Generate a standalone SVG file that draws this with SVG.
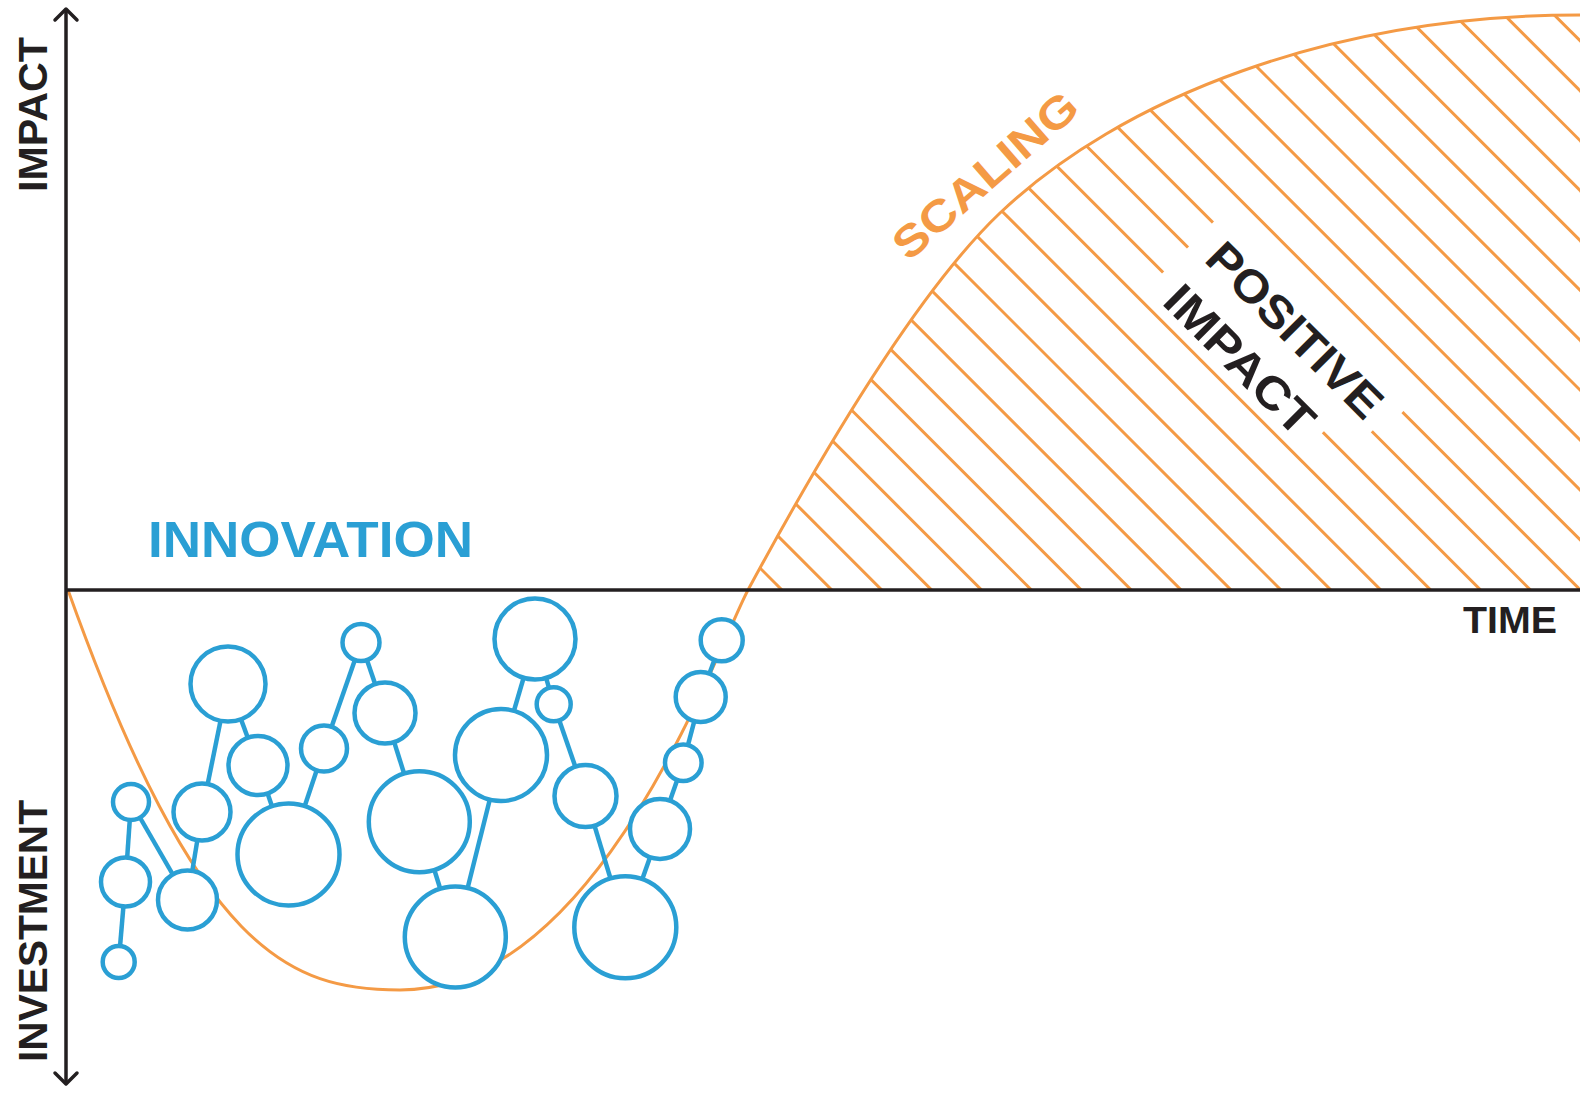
<svg xmlns="http://www.w3.org/2000/svg" width="1580" height="1095" viewBox="0 0 1580 1095">
<style>
.ax{stroke:#231f20;stroke-width:3.5;fill:none;stroke-linecap:round;stroke-linejoin:round}
.cv{stroke:#f49a45;stroke-width:3;fill:none}
.ht{stroke:#f49a45;stroke-width:3}
.gap{stroke:#fff;stroke-width:7}
.cn{stroke:#2a9fd4;stroke-width:4.5}
.nd{stroke:#2a9fd4;stroke-width:4.5;fill:#fff}
.lb{font-family:"Liberation Sans",Arial,sans-serif;font-weight:bold}
</style>
<defs>
<clipPath id="area"><path d="M748,590 C828,442 920,289 1000,213 C1120,99 1330,15 1580,15 L1580,590 Z"/></clipPath>
</defs>
<rect width="1580" height="1095" fill="#fff"/>
<g id="curve">
<path class="cv" d="M68,590 C198,954 290,990 400,990 C600,990 716,650 748,590 C828,442 920,289 1000,213 C1120,99 1330,15 1580,15"/>
</g>
<g id="hatch" clip-path="url(#area)">
<line class="ht" x1="782" y1="590" x2="82" y2="-110"/>
<line class="ht" x1="831.9" y1="590" x2="131.9" y2="-110"/>
<line class="ht" x1="881.8" y1="590" x2="181.8" y2="-110"/>
<line class="ht" x1="931.7" y1="590" x2="231.7" y2="-110"/>
<line class="ht" x1="981.6" y1="590" x2="281.6" y2="-110"/>
<line class="ht" x1="1031.5" y1="590" x2="331.5" y2="-110"/>
<line class="ht" x1="1081.4" y1="590" x2="381.4" y2="-110"/>
<line class="ht" x1="1131.3" y1="590" x2="431.3" y2="-110"/>
<line class="ht" x1="1181.2" y1="590" x2="481.2" y2="-110"/>
<line class="ht" x1="1231.1" y1="590" x2="531.1" y2="-110"/>
<line class="ht" x1="1281" y1="590" x2="581" y2="-110"/>
<line class="ht" x1="1330.9" y1="590" x2="630.9" y2="-110"/>
<line class="ht" x1="1380.8" y1="590" x2="680.8" y2="-110"/>
<line class="ht" x1="1430.7" y1="590" x2="730.7" y2="-110"/>
<line class="ht" x1="1480.6" y1="590" x2="780.6" y2="-110"/>
<line class="ht" x1="1530.5" y1="590" x2="830.5" y2="-110"/>
<line class="ht" x1="1580.4" y1="590" x2="880.4" y2="-110"/>
<line class="ht" x1="1630.3" y1="590" x2="930.3" y2="-110"/>
<line class="ht" x1="1680.2" y1="590" x2="980.2" y2="-110"/>
<line class="ht" x1="1730.1" y1="590" x2="1030.1" y2="-110"/>
<line class="ht" x1="1780" y1="590" x2="1080" y2="-110"/>
<line class="ht" x1="1829.9" y1="590" x2="1129.9" y2="-110"/>
<line class="ht" x1="1879.8" y1="590" x2="1179.8" y2="-110"/>
<line class="ht" x1="1929.7" y1="590" x2="1229.7" y2="-110"/>
<line class="ht" x1="1979.6" y1="590" x2="1279.6" y2="-110"/>
<line class="ht" x1="2029.5" y1="590" x2="1329.5" y2="-110"/>
<line class="ht" x1="2079.4" y1="590" x2="1379.4" y2="-110"/>
<line class="ht" x1="2129.3" y1="590" x2="1429.3" y2="-110"/>
<line class="ht" x1="2179.2" y1="590" x2="1479.2" y2="-110"/>
</g>
<g id="positive-impact" transform="translate(1295,330) rotate(45)">
<line class="gap" x1="-134" y1="-18" x2="134" y2="-18"/>
<line class="gap" x1="-134" y1="17.3" x2="126" y2="17.3"/>
<line class="gap" x1="-134" y1="52.6" x2="92" y2="52.6"/>
<text class="lb" x="-114" y="16" font-size="46" fill="#231f20" textLength="228" lengthAdjust="spacingAndGlyphs">POSITIVE</text>
<text class="lb" x="-114" y="76" font-size="46" fill="#231f20" textLength="192" lengthAdjust="spacingAndGlyphs">IMPACT</text>
</g>
<g id="axes">
<line class="ax" x1="66" y1="10" x2="66" y2="1083"/>
<polyline class="ax" points="55,20 66,9 77,20"/>
<polyline class="ax" points="55,1073 66,1084 77,1073"/>
<line class="ax" x1="66" y1="590" x2="1580" y2="590" style="stroke-linecap:butt"/>
</g>
<g id="connectors">
<line class="cn" x1="118.7" y1="962" x2="125.5" y2="882"/>
<line class="cn" x1="125.5" y1="882" x2="131" y2="802"/>
<line class="cn" x1="131" y1="802" x2="187.5" y2="900"/>
<line class="cn" x1="187.5" y1="900" x2="202" y2="812"/>
<line class="cn" x1="202" y1="812" x2="228" y2="684"/>
<line class="cn" x1="228" y1="684" x2="258" y2="765.5"/>
<line class="cn" x1="258" y1="765.5" x2="288.5" y2="854.5"/>
<line class="cn" x1="288.5" y1="854.5" x2="324" y2="748.5"/>
<line class="cn" x1="324" y1="748.5" x2="361" y2="642.5"/>
<line class="cn" x1="361" y1="642.5" x2="385" y2="713"/>
<line class="cn" x1="385" y1="713" x2="419.3" y2="821.7"/>
<line class="cn" x1="419.3" y1="821.7" x2="455.3" y2="937"/>
<line class="cn" x1="455.3" y1="937" x2="501" y2="755"/>
<line class="cn" x1="501" y1="755" x2="535" y2="639"/>
<line class="cn" x1="535" y1="639" x2="553.7" y2="704.3"/>
<line class="cn" x1="553.7" y1="704.3" x2="585.5" y2="796"/>
<line class="cn" x1="585.5" y1="796" x2="625.3" y2="927.3"/>
<line class="cn" x1="625.3" y1="927.3" x2="660" y2="829"/>
<line class="cn" x1="660" y1="829" x2="683.3" y2="762.7"/>
<line class="cn" x1="683.3" y1="762.7" x2="700.7" y2="697"/>
<line class="cn" x1="700.7" y1="697" x2="721.7" y2="640.3"/>
</g>
<g id="n1"><circle class="nd" cx="131" cy="802" r="18"/></g>
<g id="n2"><circle class="nd" cx="125.5" cy="882" r="24.5"/></g>
<g id="n3"><circle class="nd" cx="118.7" cy="962" r="16"/></g>
<g id="n4"><circle class="nd" cx="187.5" cy="900" r="29.5"/></g>
<g id="n5"><circle class="nd" cx="202" cy="812" r="28.5"/></g>
<g id="n6"><circle class="nd" cx="228" cy="684" r="37.5"/></g>
<g id="n7"><circle class="nd" cx="258" cy="765.5" r="29.5"/></g>
<g id="n8"><circle class="nd" cx="288.5" cy="854.5" r="51"/></g>
<g id="n9"><circle class="nd" cx="324" cy="748.5" r="23"/></g>
<g id="n10"><circle class="nd" cx="361" cy="642.5" r="18.5"/></g>
<g id="n11"><circle class="nd" cx="385" cy="713" r="30.5"/></g>
<g id="n12"><circle class="nd" cx="419.3" cy="821.7" r="50.5"/></g>
<g id="n13"><circle class="nd" cx="455.3" cy="937" r="50.5"/></g>
<g id="n14"><circle class="nd" cx="501" cy="755" r="46"/></g>
<g id="n15"><circle class="nd" cx="535" cy="639" r="40.5"/></g>
<g id="n16"><circle class="nd" cx="553.7" cy="704.3" r="17"/></g>
<g id="n17"><circle class="nd" cx="585.5" cy="796" r="31"/></g>
<g id="n18"><circle class="nd" cx="625.3" cy="927.3" r="51"/></g>
<g id="n19"><circle class="nd" cx="660" cy="829" r="30"/></g>
<g id="n20"><circle class="nd" cx="683.3" cy="762.7" r="18.3"/></g>
<g id="n21"><circle class="nd" cx="700.7" cy="697" r="25"/></g>
<g id="n22"><circle class="nd" cx="721.7" cy="640.3" r="21"/></g>
<g id="labels">
<text class="lb" x="148" y="557" font-size="50" fill="#2a9fd4" textLength="325" lengthAdjust="spacingAndGlyphs">INNOVATION</text>
<text class="lb" x="1463" y="633" font-size="37" fill="#231f20" textLength="94" lengthAdjust="spacingAndGlyphs">TIME</text>
<text class="lb" transform="translate(47,192) rotate(-90)" font-size="40" fill="#231f20" textLength="155" lengthAdjust="spacingAndGlyphs">IMPACT</text>
<text class="lb" transform="translate(47,1062) rotate(-90)" font-size="40" fill="#231f20" textLength="262" lengthAdjust="spacingAndGlyphs">INVESTMENT</text>
<text class="lb" transform="translate(985,175) rotate(-41)" x="0" y="15.5" text-anchor="middle" font-size="44" fill="#f49a45" textLength="230" lengthAdjust="spacingAndGlyphs">SCALING</text>
</g>
</svg>
